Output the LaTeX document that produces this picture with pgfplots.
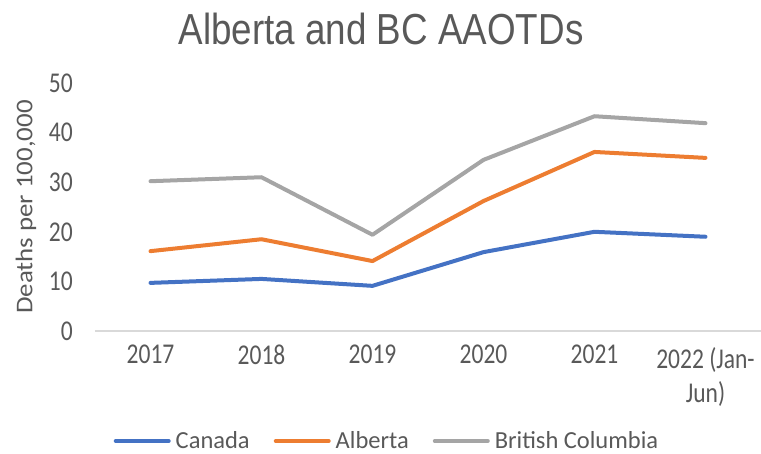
\documentclass[border=0pt]{standalone}
\usepackage{pgfplots}
\pgfplotsset{compat=1.18}
\usepackage{fontspec}
\setmainfont{Carlito}
\newfontfamily\titlefont{Liberation Sans}
\definecolor{cblue}{HTML}{4472C4}
\definecolor{corange}{HTML}{ED7D31}
\definecolor{cgray}{HTML}{A5A5A5}
\definecolor{txt}{HTML}{595959}
\definecolor{axl}{HTML}{D9D9D9}
\newcommand{\st}[1]{\scalebox{1}[1.22]{#1}}
\begin{document}
\begin{tikzpicture}
\path[use as bounding box] (0pt,0pt) rectangle (761pt,454pt);
\begin{axis}[
  at={(95pt,123pt)}, anchor=south west,
  scale only axis, width=666pt, height=248pt,
  xmin=-0.5, xmax=5.5, ymin=0, ymax=50,
  axis x line*=bottom, axis y line*=left,
  x axis line style={draw=axl, line width=1.5pt, -},
  y axis line style={draw=none},
  major tick length=0pt,
  xtick={0,1,2,3,4,5},
  xticklabels={\st{2017},\st{2018},\st{2019},\st{2020},\st{2021},\st{\begin{tabular}{@{}c@{}}2022 (Jan-\\[1pt]Jun)\end{tabular}}},
  ytick={0,10,20,30,40,50},
  yticklabel={\st{\pgfmathprintnumber[assume math mode=true]{\tick}}},
  tick label style={font=\fontsize{23.5}{27}\selectfont, text=txt},
  xticklabel style={anchor=north, inner sep=0pt, yshift=-14pt},
  yticklabel style={anchor=east, inner sep=0pt, xshift=-22pt},
  ylabel={\scalebox{1.12}[1]{Deaths per 100,000}},
  ylabel style={font=\fontsize{24}{28}\selectfont, text=txt, at={(axis description cs:-0.1036,0.5)}, rotate=0, anchor=center},
  legend columns=3,
  legend style={draw=none, fill=none, at={(axis description cs:0.4384,-0.4435)}, anchor=center,
    font=\fontsize{24.5}{29}\selectfont, text=txt, inner sep=1pt,
    /tikz/every odd column/.append style={column sep=3pt},
    /tikz/every even column/.append style={column sep=22pt}},
  legend image code/.code={\draw[line width=4pt, line cap=round] (0pt,0pt) -- (53pt,0pt);},
  legend cell align=left,
  every axis plot/.append style={line width=4pt, line join=round, line cap=round},
  clip=false,
]
\addplot[cblue] coordinates {(0,9.7) (1,10.5) (2,9.1) (3,15.9) (4,20.0) (5,19.0)};
\addlegendentry{Canada}
\addplot[corange] coordinates {(0,16.1) (1,18.5) (2,14.1) (3,26.2) (4,36.1) (5,34.9)};
\addlegendentry{Alberta}
\addplot[cgray] coordinates {(0,30.2) (1,31.0) (2,19.4) (3,34.5) (4,43.3) (5,41.9)};
\addlegendentry{British Columbia}
\end{axis}
\node[font=\titlefont\fontsize{36.8}{40}\selectfont, text=txt, inner sep=0pt] at (381pt,425.5pt) {\scalebox{1}[1.18]{Alberta and BC AAOTDs}};
\end{tikzpicture}
\end{document}
